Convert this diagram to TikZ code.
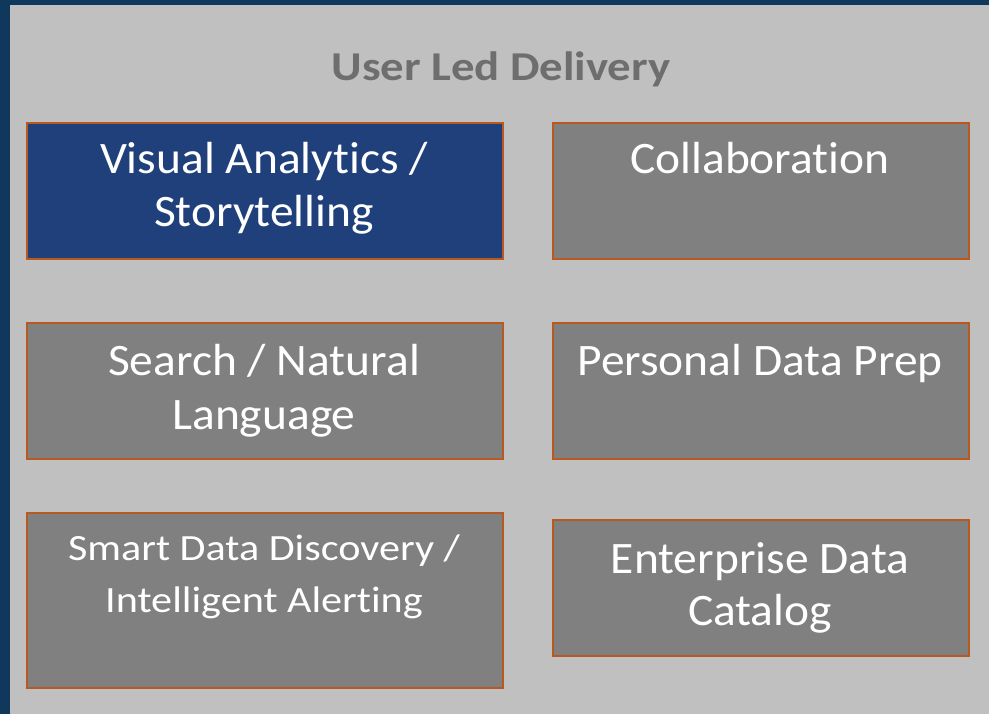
\documentclass[tikz,border=0pt]{standalone}
\usepackage{fontspec}
\setmainfont{Carlito}[Ligatures=NoCommon]
\newfontfamily\tilefont{Carlito}[FakeStretch=1.055, Ligatures=NoCommon]
\newfontfamily\smallfont{Carlito}[FakeStretch=1.14, Ligatures=NoCommon]
\newfontfamily\headfont{Carlito}[FakeStretch=1.14, Ligatures=NoCommon]
\definecolor{frameblue}{HTML}{10375C}
\definecolor{panelgray}{HTML}{C0C0C0}
\definecolor{boxblue}{HTML}{1F407A}
\definecolor{boxgray}{HTML}{808080}
\definecolor{edgeorange}{HTML}{B85A1F}
\definecolor{titlegray}{HTML}{6E6E6E}
\tikzset{
  tile/.style={draw=edgeorange, line width=2pt, fill=boxgray, anchor=north west, inner sep=0pt},
  bluetile/.style={tile, fill=boxblue},
  tiletext/.style={text=white, anchor=base, inner sep=0pt, align=center, font=\tilefont\fontsize{45}{53}\selectfont},
  smalltext/.style={tiletext, font=\smallfont\fontsize{37}{52}\selectfont},
}
\begin{document}
\begin{tikzpicture}[x=1pt,y=-1pt]
\useasboundingbox (0,0) rectangle (989,714);
\fill[frameblue] (0,0) rectangle (989,714);
\fill[panelgray] (10,5) rectangle (989,714);
\node[anchor=base, inner sep=0pt, text=titlegray, font=\headfont\fontsize{41}{46}\selectfont\bfseries] (title) at (501,81) {User Led Delivery};
% left column
\node[bluetile, minimum width=476pt, minimum height=136pt] (va) at (26,122) {};
\node[tile, minimum width=476pt, minimum height=136pt] (sn) at (26,322) {};
\node[tile, minimum width=476pt, minimum height=175pt] (sd) at (26,512) {};
% right column
\node[tile, minimum width=416pt, minimum height=136pt] (co) at (552,122) {};
\node[tile, minimum width=416pt, minimum height=136pt] (pd) at (552,322) {};
\node[tile, minimum width=416pt, minimum height=136pt] (ed) at (552,519) {};
% texts
\node[tiletext] (vat) at (264,174) {Visual Analytics /};
\node[tiletext] (vat2) at (264,227) {Storytelling};
\node[tiletext] (snt) at (264,375) {Search / Natural};
\node[tiletext] (snt2) at (264,429) {Language};
\node[smalltext] (sdt) at (264,560) {Smart Data Discovery /};
\node[smalltext] (sdt2) at (264,612) {Intelligent Alerting};
\node[tiletext] (cot) at (760,174) {Collaboration};
\node[tiletext] (pdt) at (760,376) {Personal Data Prep};
\node[tiletext] (edt) at (760,573) {Enterprise Data};
\node[tiletext] (edt2) at (760,625) {Catalog};
\end{tikzpicture}
\end{document}
